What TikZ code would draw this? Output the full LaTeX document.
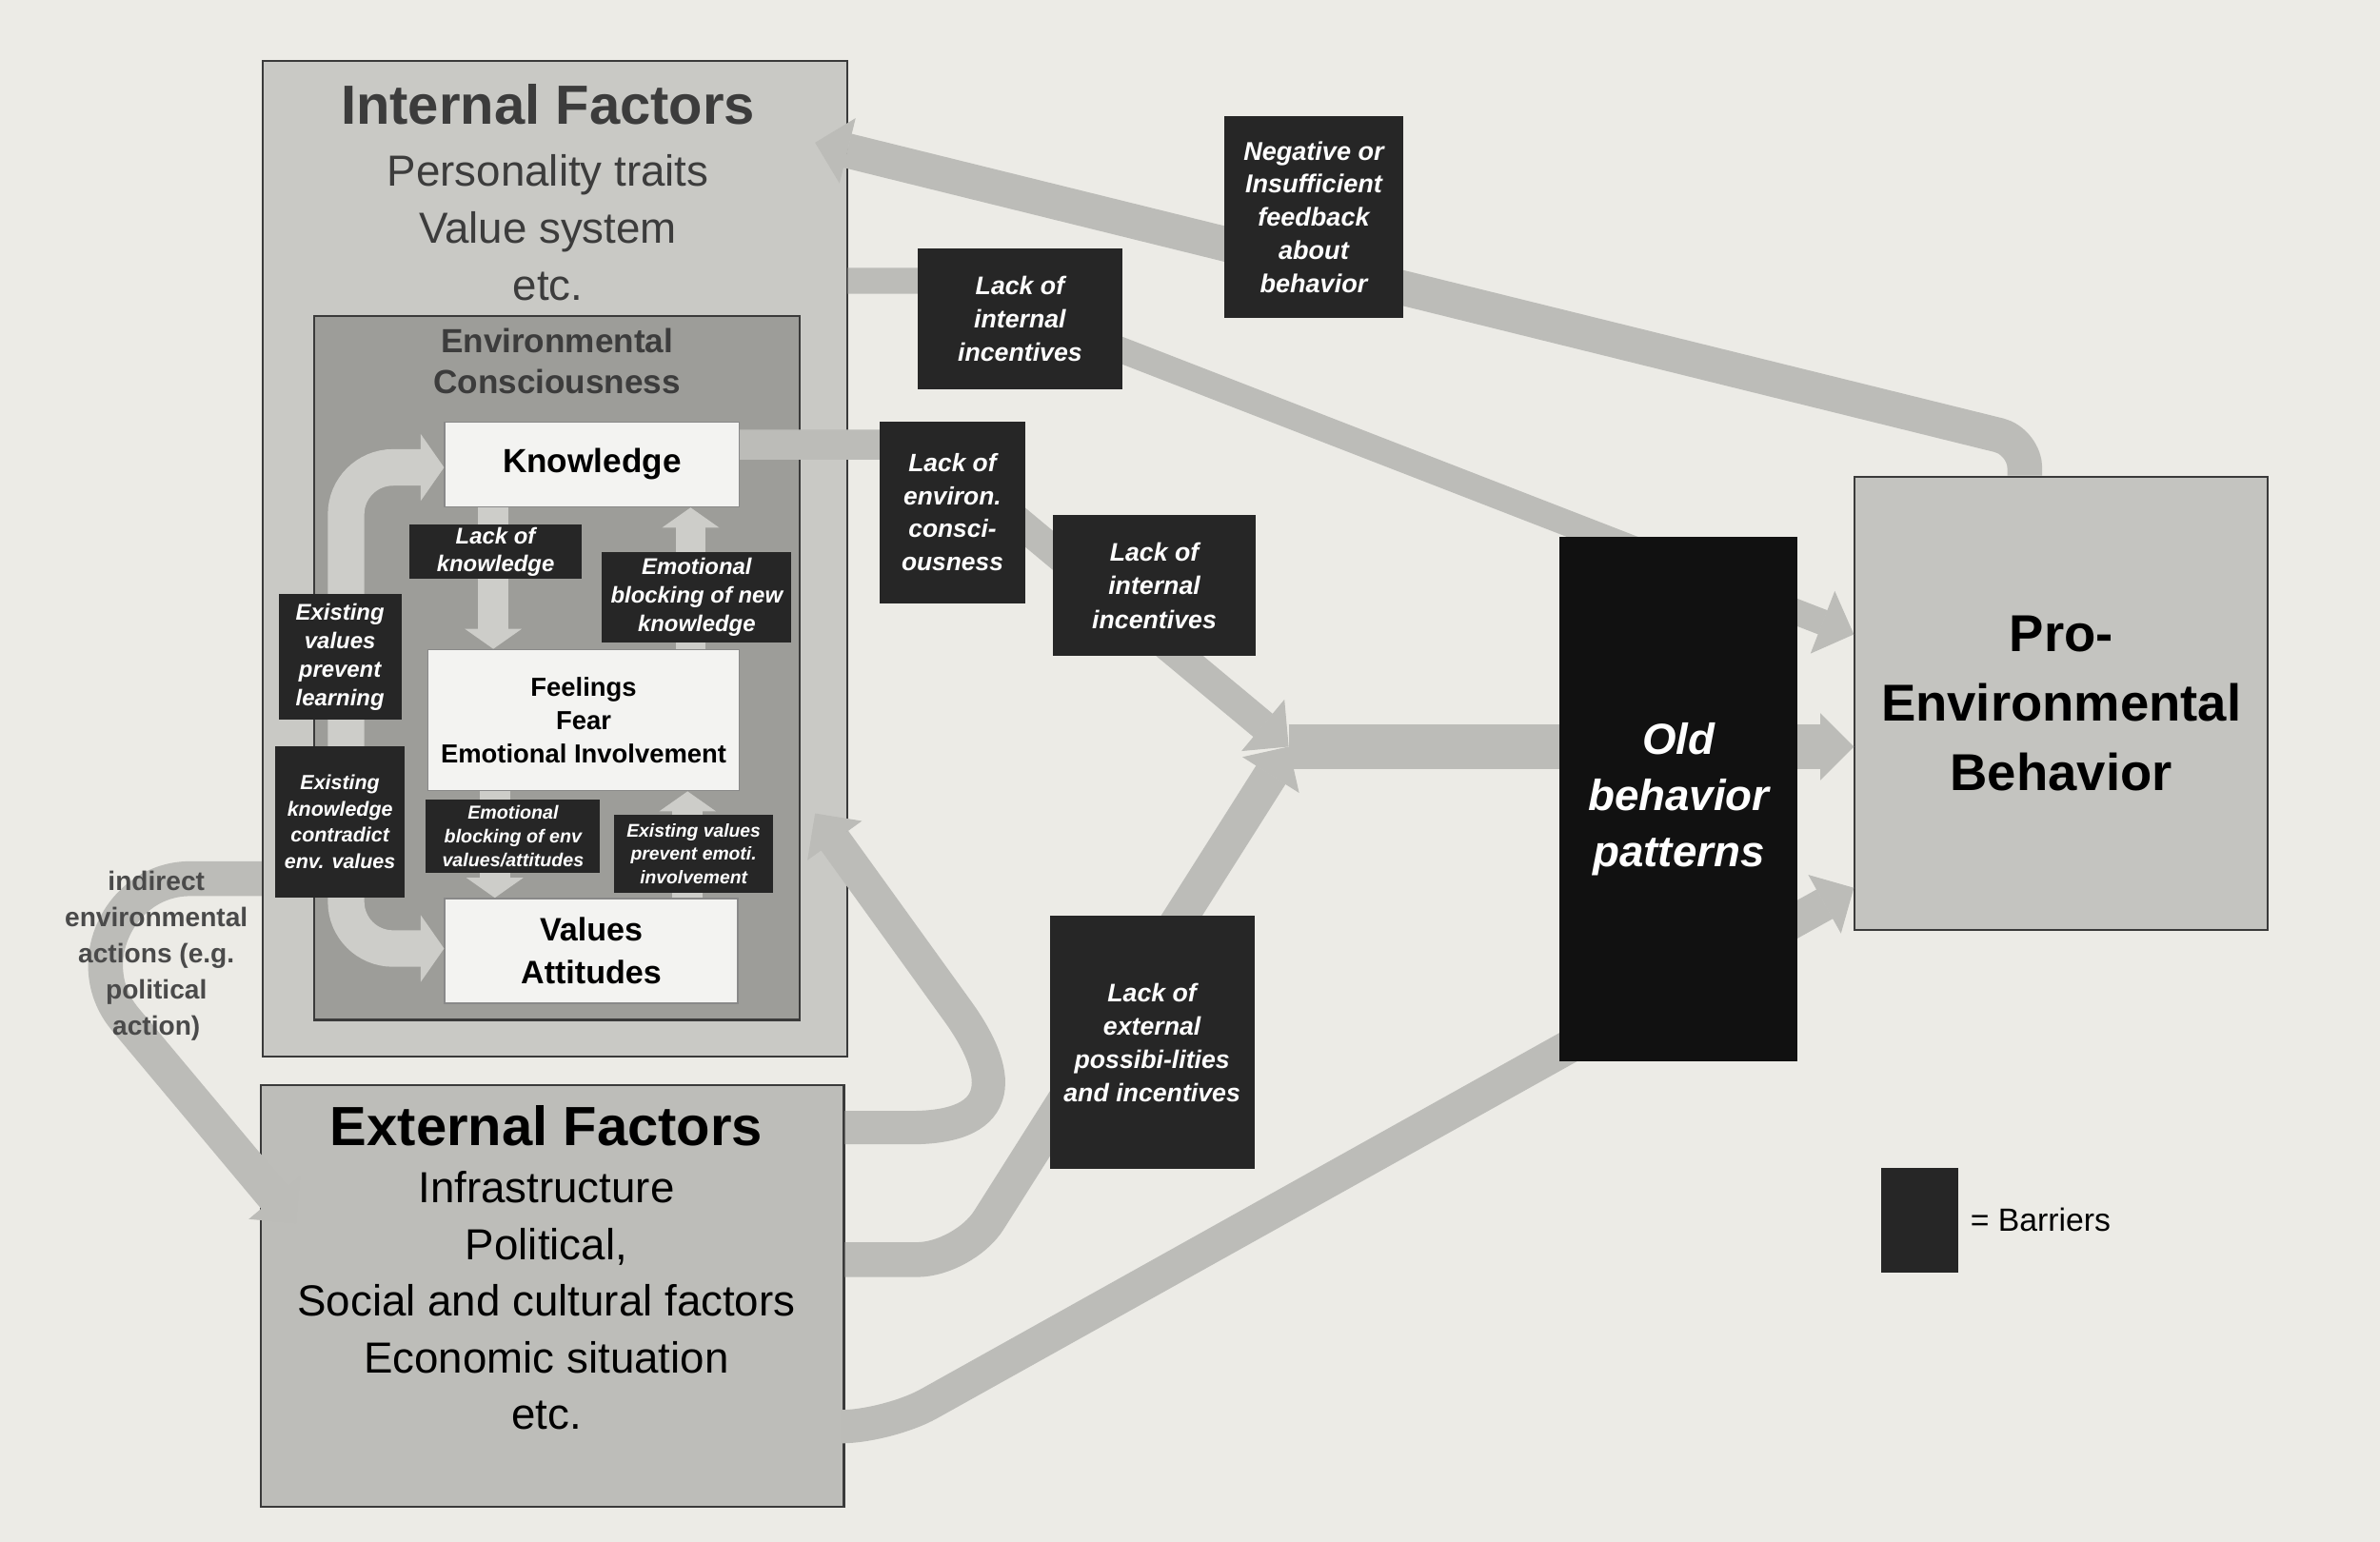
\documentclass[tikz,border=0pt]{standalone}
\usepackage{fontspec}
\setmainfont{Liberation Sans}
\usetikzlibrary{arrows.meta,fit,positioning}

\definecolor{paper}{HTML}{ECEBE6}
\definecolor{intfill}{HTML}{C9C9C5}
\definecolor{envfill}{HTML}{9D9D99}
\definecolor{extfill}{HTML}{BDBDB9}
\definecolor{profill}{HTML}{C4C4C0}
\definecolor{whitefill}{HTML}{F3F3F1}
\definecolor{bandgrey}{HTML}{BCBCB8}
\definecolor{innergrey}{HTML}{CDCDC9}
\definecolor{barrierfill}{HTML}{262626}
\definecolor{oldfill}{HTML}{111111}
\definecolor{boxline}{HTML}{3A3A3A}
\definecolor{titlegrey}{HTML}{3C3C3C}
\definecolor{indgrey}{HTML}{4A4A4A}

\newcommand{\fsz}[2]{\fontsize{#1}{#2}\selectfont}

\tikzset{
  bigbox/.style={draw=boxline, line width=0.6pt, inner sep=0pt},
  whitebox/.style={fill=whitefill, draw=boxline!60, line width=0.4pt, inner sep=0pt},
  whitetext/.style={align=center, font=\bfseries#1},
  barrier/.style={fill=barrierfill, draw=barrierfill, inner sep=0pt},
  bartext/.style={text=white, align=center, font=\bfseries\itshape#1},
  band/.style={draw=bandgrey, line width=#1, -{Triangle[length=10pt, width=20pt, line width'=0.3pt]}},
  band/.default=10pt,
  innerband/.style={draw=innergrey, line width=#1, -{Triangle[length=6pt, width=17pt, line width'=0.3pt]}},
  innerband/.default=9pt
}

\begin{document}
\begin{tikzpicture}[x=0.0159439cm, y=-0.0159439cm]
\useasboundingbox (0,0) rectangle (1568,1016);
\fill[paper] (0,0) rectangle (1568,1016);

\node[bigbox, fill=intfill, fit={(173,40) (558,696)}] (internal) {};
\node[bigbox, fill=envfill, fit={(207,208) (527,672)}] (envbox) {};
\node[bigbox, fill=extfill, fit={(172,715) (556,993)}] (external) {};
\node[bigbox, fill=profill, fit={(1222,314) (1494,613)}] (pro) {};
\node[whitetext={\fsz{15.5}{20.9}}] (protxt) at (pro) {Pro-\\Environmental\\Behavior};

\node[whitebox, fit={(293,278) (487,334)}] (knowledge) {};
\node[whitebox, fit={(282,428) (487,521)}] (feelings) {};
\node[whitebox, fit={(293,592) (486,661)}] (values) {};
\node[whitetext={\fsz{10}{12}}] (knowledgetxt) at (knowledge) {Knowledge};
\node[whitetext={\fsz{7.8}{10}}] (feelingstxt) at (feelings) {Feelings\\Fear\\Emotional Involvement};
\node[whitetext={\fsz{9.7}{12.7}}] (valuestxt) at (values) {Values\\Attitudes};

\coordinate (fbbend) at (1334,291);
\coordinate (fbtip) at (537,94);
\coordinate (li1bend) at (621,185);
\coordinate (li1end) at (0,418);
\coordinate (knbend) at (610,293);
\coordinate (conv) at (849,492);
\coordinate (lebend) at (635,830);
\coordinate (ebbend) at (585,940);
\coordinate (ebend) at (0,585);
\coordinate (etstart) at (0,743);
\coordinate (ettip) at (537,536);
\coordinate (indstart) at (0,579);
\coordinate (indtip) at (195,806);
\coordinate (loopx) at (228,0);
\coordinate (loopk) at (0,308);
\coordinate (loopv) at (0,625);
\coordinate (kfdown) at (325,0);
\coordinate (kfup) at (455,0);
\coordinate (fvdown) at (326,0);
\coordinate (fvup) at (453,0);

\draw[band=13.6pt] (conv) -- (pro.west |- conv);
\draw[band=10.4pt, rounded corners=8pt] (pro.north -| fbbend) -- (fbbend) -- (fbtip);
\draw[band=7.7pt] (internal.east |- li1bend) -- (li1bend) -- (pro.west |- li1end);
\draw[band=9pt] (knowledge.east |- knbend) -- (knbend) -- (conv);
\draw[band=10.4pt, rounded corners=14pt] (external.east |- lebend) -- (lebend) -- (conv);
\draw[band=10pt, rounded corners=14pt] (external.east |- ebbend) -- (ebbend) -- (pro.west |- ebend);
\draw[band=10pt] (external.east |- etstart) -- (600,743) .. controls (665,743) and (660,706) .. (630,665) -- (ettip);
\draw[band=10.4pt] (internal.west |- indstart) -- (125,579) .. controls (80,579) and (52,634) .. (82,671) -- (indtip);

\draw[innerband=10.9pt, {Triangle[length=7pt, width=20pt, line width'=0.3pt]}-{Triangle[length=7pt, width=20pt, line width'=0.3pt]}, rounded corners=14pt] (values.west |- loopv) -- (loopx |- loopv) -- (loopx |- loopk) -- (knowledge.west |- loopk);
\draw[innerband] (knowledge.south -| kfdown) -- (feelings.north -| kfdown);
\draw[innerband] (feelings.north -| kfup) -- (knowledge.south -| kfup);
\draw[innerband] (feelings.south -| fvdown) -- (values.north -| fvdown);
\draw[innerband] (values.north -| fvup) -- (feelings.south -| fvup);

\node[barrier, fit={(270,346) (383,381)}] (lackknow) {};
\node[bartext={\fsz{6.8}{8.2}}] (lackknowtxt) at (lackknow) {Lack of\\knowledge};
\node[barrier, fit={(397,364) (521,423)}] (emoblock) {};
\node[bartext={\fsz{6.8}{8.6}}] (emoblocktxt) at (emoblock) {Emotional\\blocking of new\\knowledge};
\node[barrier, fit={(184,392) (264,474)}] (exvalues) {};
\node[bartext={\fsz{6.8}{8.6}}] (exvaluestxt) at (exvalues) {Existing\\values\\prevent\\learning};
\node[barrier, fit={(182,492) (266,591)}] (exknow) {};
\node[bartext={\fsz{6.1}{7.9}}] (exknowtxt) at (exknow) {Existing\\knowledge\\contradict\\env. values};
\node[barrier, fit={(281,527) (395,575)}] (emoenv) {};
\node[bartext={\fsz{5.6}{7}}] (emoenvtxt) at (emoenv) {Emotional\\blocking of env\\values/attitudes};
\node[barrier, fit={(405,537) (509,588)}] (exemoti) {};
\node[bartext={\fsz{5.5}{7}}] (exemotitxt) at (exemoti) {Existing values\\prevent emoti.\\involvement};
\node[barrier, fit={(605,164) (739,256)}] (lackint1) {};
\node[bartext={\fsz{7.6}{10}}] (lackint1txt) at (lackint1) {Lack of\\internal\\incentives};
\node[barrier, fit={(807,77) (924,209)}] (negfb) {};
\node[bartext={\fsz{7.7}{9.9}}] (negfbtxt) at (negfb) {Negative or\\Insufficient\\feedback\\about\\behavior};
\node[barrier, fit={(580,278) (675,397)}] (lackenv) {};
\node[bartext={\fsz{7.5}{9.8}}] (lackenvtxt) at (lackenv) {Lack of\\environ.\\consci-\\ousness};
\node[barrier, fit={(694,340) (827,432)}] (lackint2) {};
\node[bartext={\fsz{7.6}{10}}] (lackint2txt) at (lackint2) {Lack of\\internal\\incentives};
\node[barrier, fit={(692,604) (826,770)}] (lackext) {};
\node[bartext={\fsz{7.6}{10}}] (lackexttxt) at (lackext) {Lack of\\external\\possibi-lities\\and incentives};
\node[barrier, fill=oldfill, draw=oldfill, fit={(1028,354) (1184,699)}] (old) {};
\node[bartext={\fsz{13}{16.8}}] (oldtxt) at (old) {Old\\behavior\\patterns};
\node[barrier, fit={(1240,770) (1290,838)}] (legend) {};
\node[right=0pt of legend, font=\fsz{9.6}{11}] (legendtxt) {= Barriers};

\node[font=\bfseries\fsz{16.5}{20}, text=titlegrey] (inttitle) at (361,69) {Internal Factors};
\node[align=center, font=\fsz{13}{17.2}, text=titlegrey] (inttext) at (361,150) {Personality traits\\Value system\\etc.};
\node[align=center, font=\bfseries\fsz{10}{12.3}, text=titlegrey] (envtitle) at (367,238) {Environmental\\Consciousness};
\node[font=\bfseries\fsz{16.5}{20}] (exttitle) at (360,742) {External Factors};
\node[align=center, font=\fsz{13}{16.9}] (exttext) at (360,857) {Infrastructure\\Political,\\Social and cultural factors\\Economic situation\\etc.};
\node[align=center, font=\bfseries\fsz{8}{10.8}, text=indgrey] (indirect) at (103,630) {indirect\\environmental\\actions (e.g.\\political\\action)};
\end{tikzpicture}
\end{document}
